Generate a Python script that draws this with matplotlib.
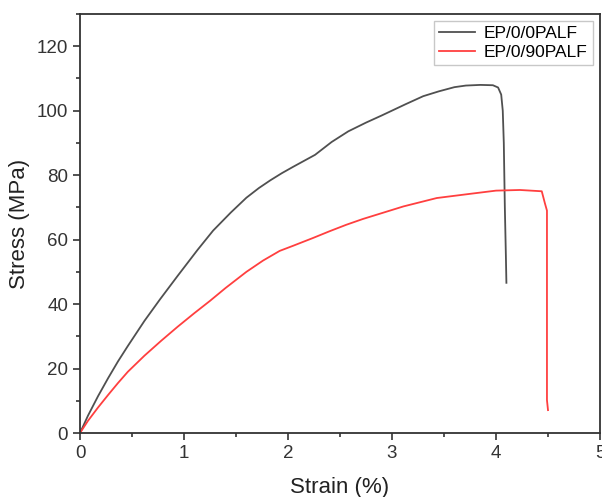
import matplotlib.pyplot as plt
from matplotlib.ticker import MultipleLocator

plt.rcParams['font.family'] = ['Liberation Sans', 'DejaVu Sans']

# EP/0/0PALF
strain_0 = [0, 0.077, 0.173, 0.27, 0.365, 0.46, 0.62, 0.77, 0.94, 1.13, 1.28, 1.45,
            1.60, 1.72, 1.83, 1.94, 2.05, 2.26, 2.42, 2.58, 2.75, 2.90, 3.13, 3.30,
            3.45, 3.60, 3.71, 3.85, 3.97, 4.02, 4.05, 4.065, 4.075, 4.085, 4.095, 4.10]
stress_0 = [0, 5.4, 11.4, 17.0, 22.2, 27.0, 34.8, 41.5, 48.8, 56.8, 62.8, 68.4,
            73.0, 76.0, 78.4, 80.6, 82.6, 86.3, 90.3, 93.6, 96.3, 98.5, 102.0, 104.5,
            106.0, 107.3, 107.8, 108.0, 107.9, 107.2, 105.0, 100.0, 90.0, 70.0, 55.0, 46.6]

# EP/0/90PALF
strain_90 = [0, 0.077, 0.173, 0.27, 0.365, 0.46, 0.62, 0.78, 0.94, 1.10, 1.25,
             1.40, 1.60, 1.76, 1.92, 2.05, 2.24, 2.40, 2.56, 2.72, 2.85, 3.11, 3.43,
             3.75, 4.0, 4.23, 4.44, 4.47, 4.49, 4.49, 4.50]
stress_90 = [0, 3.8, 7.9, 11.8, 15.5, 19.0, 24.0, 28.6, 33.0, 37.2, 41.0,
             45.0, 50.0, 53.5, 56.5, 58.1, 60.5, 62.6, 64.6, 66.4, 67.7, 70.3, 72.9,
             74.2, 75.2, 75.4, 75.0, 71.3, 69.0, 10.2, 7.1]

fig = plt.figure(figsize=(6.02, 4.97), dpi=100)
ax = fig.add_axes([80/602, 64/497, 520/602, 419/497])

ax.plot(strain_0, stress_0, color='#505050', lw=1.3, label='EP/0/0PALF')
ax.plot(strain_90, stress_90, color='#ff3f3f', lw=1.3, label='EP/0/90PALF')

ax.set_xlim(0, 5)
ax.set_ylim(0, 130)
ax.xaxis.set_major_locator(MultipleLocator(1))
ax.xaxis.set_minor_locator(MultipleLocator(0.5))
ax.yaxis.set_major_locator(MultipleLocator(20))
ax.yaxis.set_minor_locator(MultipleLocator(10))
ax.tick_params(which='both', direction='out', colors='#333333', labelsize=13.5,
               width=1.2, top=False, right=False)
ax.tick_params(which='major', length=5)
ax.tick_params(which='minor', length=3)
for s in ax.spines.values():
    s.set_linewidth(1.3)
    s.set_color('#333333')

ax.set_xlabel('Strain (%)', fontsize=16, labelpad=11, color='#222222')
ax.set_ylabel('Stress (MPa)', fontsize=16, labelpad=5, color='#222222')

leg = ax.legend(loc='upper right', fontsize=12.5, fancybox=False, handlelength=2.1,
                borderaxespad=0.4, labelspacing=0.2, borderpad=0.3, handletextpad=0.5)
leg.get_frame().set_edgecolor('#bbbbbb')
leg.get_frame().set_linewidth(1.0)

fig.savefig('out.png', dpi=100)
